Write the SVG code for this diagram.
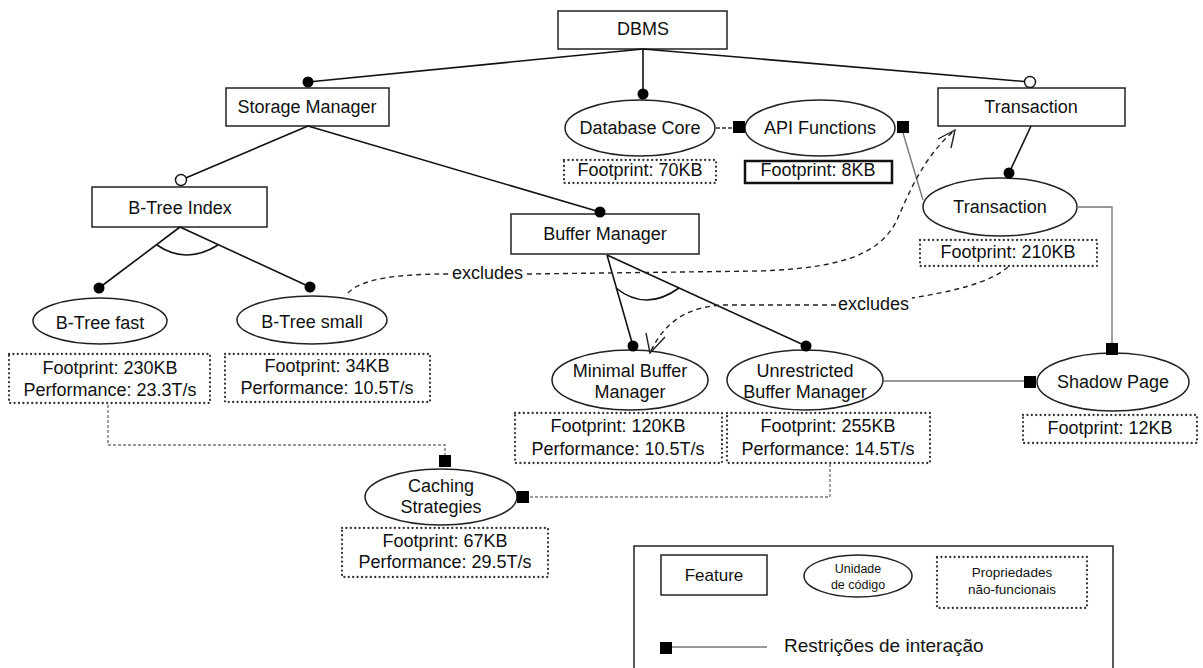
<svg xmlns="http://www.w3.org/2000/svg" width="1203" height="668" viewBox="0 0 1203 668">
<style>
text{font-family:"Liberation Sans",Arial,sans-serif;font-size:18px;fill:#111;text-anchor:middle}
.box{fill:#fff;stroke:#222;stroke-width:1.5}
.ell{fill:#fff;stroke:#222;stroke-width:1.5}
.np{fill:none;stroke:#333;stroke-width:2.3;stroke-dasharray:0.01 4.4;stroke-linecap:round}
.tree{fill:none;stroke:#111;stroke-width:1.6}
.inter{fill:none;stroke:#777;stroke-width:1.4}
.idash{fill:none;stroke:#777;stroke-width:1.4;stroke-dasharray:3 2}
.excl{fill:none;stroke:#222;stroke-width:1.4;stroke-dasharray:5 4}
.arrow{fill:none;stroke:#222;stroke-width:1.4}
.dot{fill:#000}
.odot{fill:#fff;stroke:#111;stroke-width:1.4}
.sq{fill:#000}
.lbl{text-anchor:start}
</style>

<g id="dbms"><rect class="box" x="558" y="11" width="169" height="38"/><text x="643" y="35">DBMS</text></g>
<g id="storage-manager"><rect class="box" x="226" y="88" width="163" height="38"/><text x="307" y="113">Storage Manager</text></g>
<g id="transaction-feature"><rect class="box" x="938" y="88" width="187" height="38"/><text x="1031" y="113">Transaction</text></g>
<g id="btree-index"><rect class="box" x="92" y="187" width="175" height="40"/><text x="180" y="214">B-Tree Index</text></g>
<g id="buffer-manager"><rect class="box" x="511" y="214" width="188" height="40"/><text x="605" y="240">Buffer Manager</text></g>

<g id="database-core"><ellipse class="ell" cx="640" cy="128" rx="75" ry="28"/><text x="640" y="134">Database Core</text>
<rect class="np" x="564" y="160" width="152" height="23"/><text x="640" y="176">Footprint: 70KB</text></g>
<g id="api-functions"><ellipse class="ell" cx="820" cy="128" rx="75" ry="28"/><text x="820" y="134">API Functions</text>
<rect x="745" y="161" width="147" height="22" fill="#fff" stroke="#111" stroke-width="2.5"/><text x="818" y="176">Footprint: 8KB</text></g>
<g id="transaction-unit"><ellipse class="ell" cx="1000" cy="207" rx="77" ry="29"/><text x="1000" y="213">Transaction</text>
<rect class="np" x="920" y="240" width="177" height="26"/><text x="1008" y="258">Footprint: 210KB</text></g>
<g id="btree-fast"><ellipse class="ell" cx="100" cy="321" rx="67" ry="23"/><text x="100" y="329">B-Tree fast</text>
<rect class="np" x="9" y="354" width="201" height="49"/><text x="110" y="374">Footprint: 230KB</text><text x="110" y="396">Performance: 23.3T/s</text></g>
<g id="btree-small"><ellipse class="ell" cx="312" cy="320" rx="75" ry="24"/><text x="312" y="328">B-Tree small</text>
<rect class="np" x="225" y="354" width="205" height="48"/><text x="327" y="372">Footprint: 34KB</text><text x="327" y="394">Performance: 10.5T/s</text></g>
<g id="minimal-buffer-manager"><ellipse class="ell" cx="630" cy="380" rx="78" ry="30"/><text x="630" y="377">Minimal Buffer</text><text x="630" y="398">Manager</text>
<rect class="np" x="515" y="413" width="207" height="50"/><text x="618" y="432">Footprint: 120KB</text><text x="618" y="455">Performance: 10.5T/s</text></g>
<g id="unrestricted-buffer-manager"><ellipse class="ell" cx="805" cy="380" rx="78" ry="30"/><text x="805" y="377">Unrestricted</text><text x="805" y="398">Buffer Manager</text>
<rect class="np" x="727" y="413" width="203" height="50"/><text x="828" y="432">Footprint: 255KB</text><text x="828" y="455">Performance: 14.5T/s</text></g>
<g id="shadow-page"><ellipse class="ell" cx="1113" cy="382" rx="76" ry="29"/><text x="1113" y="388">Shadow Page</text>
<rect class="np" x="1023" y="415" width="174" height="28"/><text x="1110" y="434">Footprint: 12KB</text></g>
<g id="caching-strategies"><ellipse class="ell" cx="441" cy="497" rx="76" ry="28"/><text x="441" y="492">Caching</text><text x="441" y="513">Strategies</text>
<rect class="np" x="342" y="528" width="206" height="49"/><text x="445" y="547">Footprint: 67KB</text><text x="445" y="568">Performance: 29.5T/s</text></g>

<g id="legend">
<rect x="634" y="546" width="479" height="140" fill="#fff" stroke="#222" stroke-width="1.5"/>
<rect class="box" x="661" y="555" width="106" height="40"/><text x="714" y="581" style="font-size:17px">Feature</text>
<ellipse class="ell" cx="858" cy="576" rx="54" ry="21"/><text x="858" y="573" style="font-size:12.5px">Unidade</text><text x="858" y="589" style="font-size:12.5px">de código</text>
<rect class="np" x="937" y="557" width="150" height="51"/><text x="1012" y="577" style="font-size:13.5px">Propriedades</text><text x="1012" y="594" style="font-size:13.5px">não-funcionais</text>
<line class="inter" x1="672" y1="647" x2="767" y2="647"/><rect class="sq" x="660" y="642" width="12" height="12"/>
<text class="lbl" x="784" y="652" style="font-size:19px">Restrições de interação</text>
</g>

<g id="connectors">
<path class="tree" d="M643,49 L308,82 M643,49 L643,94 M643,49 L1030,82 M308,126 L181,180 M308,126 L600,212 M180,227 L99,288 M180,227 L310,287 M607,255 L633,346 M607,255 L806,346 M1031,126 L1009,173"/>
<path class="tree" d="M157,245 Q186,265 218,245 M616,288 Q646,312 679,288"/>
<circle class="dot" cx="308" cy="82" r="5.5"/><circle class="dot" cx="643" cy="94" r="5.5"/><circle class="odot" cx="1030" cy="82" r="5.5"/>
<circle class="odot" cx="181" cy="180" r="5.5"/><circle class="dot" cx="600" cy="212" r="5.5"/>
<circle class="dot" cx="99" cy="288" r="5.5"/><circle class="dot" cx="310" cy="287" r="5.5"/>
<circle class="dot" cx="633" cy="346" r="5.5"/><circle class="dot" cx="806" cy="346" r="5.5"/><circle class="dot" cx="1009" cy="173" r="5.5"/>
<path class="inter" d="M903,133 L923,200 M1077,207 L1112,207 L1112,343 M883,381 L1024,381"/>
<path d="M716,128 L733,128" fill="none" stroke="#333" stroke-width="1.4" stroke-dasharray="4 2"/>
<path class="idash" d="M108,405 L108,445 L445,445 L445,455 M530,497 L830,497 L830,463"/>
<rect class="sq" x="733" y="121" width="12" height="12"/><rect class="sq" x="897" y="121" width="12" height="12"/>
<rect class="sq" x="1106" y="343" width="12" height="12"/><rect class="sq" x="1024" y="376" width="12" height="12"/>
<rect class="sq" x="439" y="455" width="12" height="12"/><rect class="sq" x="517" y="491" width="12" height="12"/>
<path class="excl" d="M348,293 C362,278 400,274 450,274 M527,274 L760,271 C840,268 880,255 897,220 C910,190 925,155 955,130"/>
<path class="arrow" d="M938,139 L955,130 L951,148"/>
<text class="lbl" x="452" y="279">excludes</text>
<path class="excl" d="M1008,267 C990,283 950,292 912,298 M836,305 L725,305 C690,306 665,320 650,353"/>
<path class="arrow" d="M646,333 L650,353 L665,337"/>
<text class="lbl" x="838" y="310">excludes</text>
</g>
</svg>
